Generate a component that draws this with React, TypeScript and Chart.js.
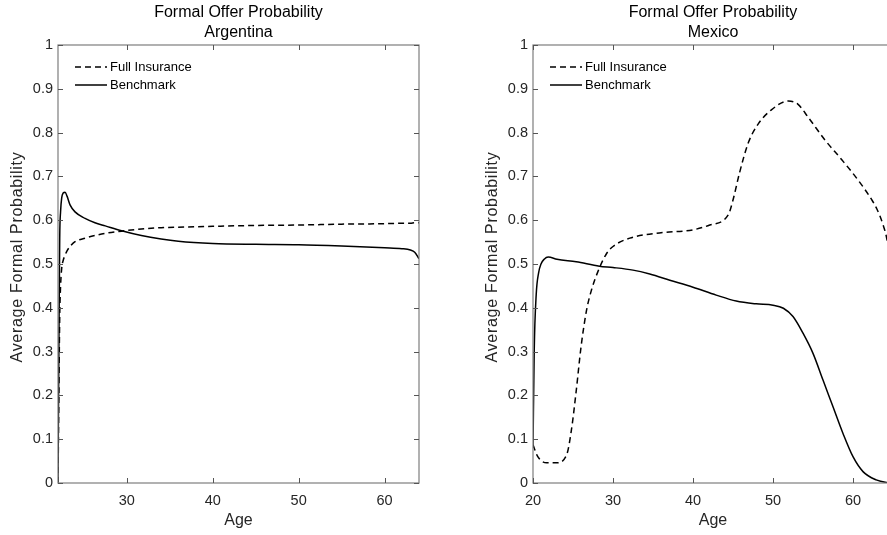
import React, { useEffect, useRef } from 'react';
import { Chart, registerables } from 'chart.js';

Chart.register(...registerables);

// ---------- data ----------
const titleMain = 'Formal Offer Probability';
const countryAR = 'Argentina';
const countryMX = 'Mexico';
const seriesFull = 'Full Insurance';
const seriesBench = 'Benchmark';
const xAxisLabel = 'Age';
const yAxisLabel = 'Average Formal Probability';

const yTickValues = [0, 0.1, 0.2, 0.3, 0.4, 0.5, 0.6, 0.7, 0.8, 0.9, 1];
const xTicksAR = [30, 40, 50, 60];
const xTicksMX = [20, 30, 40, 50, 60];
const xRangeAR = [22, 64];
const xRangeMX = [20, 65];

// Argentina
const ageAR = [22, 22.1, 22.2, 22.3, 22.43, 22.6, 22.82, 23.05, 23.4, 23.98, 25.15, 26.3, 27.5, 29.4, 31.7, 34, 36, 40, 45, 50, 55, 60, 62, 63, 63.5, 64];
const benchAR = [0, 0.3, 0.56, 0.62, 0.651, 0.662, 0.664, 0.655, 0.635, 0.619, 0.604, 0.594, 0.587, 0.576, 0.565, 0.557, 0.552, 0.547, 0.545, 0.544, 0.541, 0.537, 0.535, 0.532, 0.527, 0.512];
const fullAR = [0, 0.2, 0.38, 0.45, 0.49, 0.508, 0.52, 0.53, 0.54, 0.551, 0.559, 0.565, 0.57, 0.575, 0.58, 0.583, 0.584, 0.586, 0.588, 0.589, 0.591, 0.592, 0.593, 0.593, 0.594, 0.594];

// Mexico
const ageMXBench = [20, 20.15, 20.4, 20.7, 21, 21.4, 21.9, 23, 25.4, 28.3, 30, 32.5, 34.6, 37.1, 40, 42.9, 45.4, 47.9, 50, 51.3, 52.5, 53.75, 55, 56.25, 57.5, 58.75, 60, 61.25, 62.9, 64.2, 65];
const benchMX = [0.08, 0.3, 0.43, 0.48, 0.5, 0.511, 0.516, 0.511, 0.505, 0.495, 0.492, 0.486, 0.477, 0.463, 0.447, 0.429, 0.4155, 0.409, 0.406, 0.399, 0.38, 0.342, 0.296, 0.235, 0.174, 0.113, 0.06, 0.026, 0.007, 0.001, 0];
const ageMXFull = [20, 20.6, 21.7, 22.9, 24.2, 24.8, 25.4, 26, 26.7, 27.3, 28.1, 29.2, 30, 32.1, 35.8, 40, 42.1, 44.4, 45, 45.8, 46.9, 48.2, 49.8, 51.9, 53.1, 54.4, 56.5, 58.6, 60.7, 62.4, 63, 63.75, 64.25, 65];
const fullMX = [0.087, 0.06, 0.046, 0.046, 0.064, 0.121, 0.21, 0.31, 0.395, 0.44, 0.482, 0.524, 0.54, 0.559, 0.571, 0.578, 0.589, 0.612, 0.646, 0.707, 0.776, 0.821, 0.852, 0.872, 0.865, 0.835, 0.783, 0.738, 0.69, 0.645, 0.625, 0.59, 0.555, 0.45];

// ---------- styling ----------
const FONT = '"Liberation Sans", Arial, Helvetica, sans-serif';
const TEXT = '#262626';

function makeDecor(country: string, xTicks: number[]) {
  return {
    id: 'decor',
    afterDatasetsDraw(chart: any) {
      const { ctx, chartArea: a, scales } = chart;
      const xs = scales.x;
      const ys = scales.y;
      ctx.save();
      // box
      ctx.strokeStyle = '#7d7d7d';
      ctx.lineWidth = 1.2;
      ctx.strokeRect(a.left, a.top, a.right - a.left, a.bottom - a.top);
      // inward ticks
      ctx.strokeStyle = '#555555';
      ctx.lineWidth = 1;
      ctx.beginPath();
      for (const v of xTicks) {
        const px = Math.round(xs.getPixelForValue(v)) + 0.5;
        ctx.moveTo(px, a.bottom);
        ctx.lineTo(px, a.bottom - 5);
        ctx.moveTo(px, a.top);
        ctx.lineTo(px, a.top + 5);
      }
      for (const v of yTickValues) {
        const py = Math.round(ys.getPixelForValue(v)) + 0.5;
        ctx.moveTo(a.left, py);
        ctx.lineTo(a.left + 5, py);
        ctx.moveTo(a.right, py);
        ctx.lineTo(a.right - 5, py);
      }
      ctx.stroke();

      const cx = (a.left + a.right) / 2;
      // titles
      ctx.fillStyle = '#000';
      ctx.font = `16px ${FONT}`;
      ctx.textAlign = 'center';
      ctx.textBaseline = 'middle';
      ctx.fillText(titleMain, cx, a.top - 32);
      ctx.fillText(country, cx, a.top - 12);

      // axis labels
      ctx.fillStyle = TEXT;
      ctx.fillText(xAxisLabel, cx, a.bottom + 38);
      ctx.save();
      ctx.translate(a.left - 40, (a.top + a.bottom) / 2 - 7);
      ctx.rotate(-Math.PI / 2);
      try { (ctx as any).letterSpacing = '0.7px'; } catch (e) {}
      ctx.fillText(yAxisLabel, 0, 0);
      ctx.restore();

      // legend
      const lx0 = a.left + 17;
      const lx1 = a.left + 49;
      const ly1 = a.top + 22;
      const ly2 = a.top + 40;
      ctx.strokeStyle = '#000';
      ctx.lineWidth = 1.5;
      ctx.setLineDash([6, 4]);
      ctx.beginPath();
      ctx.moveTo(lx0, ly1);
      ctx.lineTo(lx1, ly1);
      ctx.stroke();
      ctx.setLineDash([]);
      ctx.beginPath();
      ctx.moveTo(lx0, ly2);
      ctx.lineTo(lx1, ly2);
      ctx.stroke();
      ctx.fillStyle = '#000';
      ctx.font = `13px ${FONT}`;
      ctx.textAlign = 'left';
      ctx.fillText(seriesFull, lx1 + 3, ly1);
      ctx.fillText(seriesBench, lx1 + 3, ly2);
      ctx.restore();
    },
  };
}

type PanelProps = {
  left: number;
  width: number;
  yAxisWidth: number;
  padRight: number;
  range: number[];
  xTicks: number[];
  country: string;
  fullX: number[];
  fullY: number[];
  benchX: number[];
  benchY: number[];
};

function Panel(p: PanelProps) {
  const ref = useRef<HTMLCanvasElement | null>(null);
  useEffect(() => {
    if (!ref.current) return;
    const chart = new Chart(ref.current, {
      type: 'line',
      data: {
        datasets: [
          {
            label: seriesFull,
            data: p.fullX.map((x, i) => ({ x, y: p.fullY[i] })),
            borderColor: '#000',
            borderWidth: 1.5,
            borderDash: [6, 4],
            pointRadius: 0,
            fill: false,
            cubicInterpolationMode: 'monotone',
          },
          {
            label: seriesBench,
            data: p.benchX.map((x, i) => ({ x, y: p.benchY[i] })),
            borderColor: '#000',
            borderWidth: 1.5,
            pointRadius: 0,
            fill: false,
            cubicInterpolationMode: 'monotone',
          },
        ],
      },
      options: {
        responsive: false,
        animation: false,
        devicePixelRatio: 1,
        layout: { padding: { left: 0, right: p.padRight, top: 45, bottom: 0 } },
        plugins: {
          legend: { display: false },
          title: { display: false },
          tooltip: { enabled: false },
        },
        scales: {
          x: {
            type: 'linear',
            min: p.range[0],
            max: p.range[1],
            afterBuildTicks: (s: any) => {
              s.ticks = p.xTicks.map((v) => ({ value: v }));
            },
            afterFit: (s: any) => {
              s.height = 52;
            },
            grid: { display: false, drawTicks: false },
            border: { display: false },
            ticks: {
              padding: 9,
              color: TEXT,
              font: { family: FONT, size: 14.5 },
              maxRotation: 0,
              autoSkip: false,
              callback: (v: any) => String(v),
            },
          },
          y: {
            type: 'linear',
            min: 0,
            max: 1,
            afterBuildTicks: (s: any) => {
              s.ticks = yTickValues.map((v) => ({ value: v }));
            },
            afterFit: (s: any) => {
              s.width = p.yAxisWidth;
            },
            grid: { display: false, drawTicks: false },
            border: { display: false },
            ticks: {
              padding: 5,
              color: TEXT,
              font: { family: FONT, size: 14.5 },
              autoSkip: false,
              callback: (v: any) => (v === 0 ? '0' : v === 1 ? '1' : Number(v).toFixed(1)),
            },
          },
        },
      } as any,
      plugins: [makeDecor(p.country, p.xTicks)],
    });
    return () => chart.destroy();
  }, []);
  return (
    <canvas
      ref={ref}
      width={p.width}
      height={535}
      style={{ position: 'absolute', left: p.left, top: 0, width: p.width, height: 535 }}
    />
  );
}

export default function App() {
  return (
    <div
      style={{
        position: 'fixed',
        left: 0,
        top: 0,
        width: '100vw',
        height: '100vh',
        overflow: 'hidden',
        background: '#fff',
      }}
    >
      <Panel
        left={0}
        width={443}
        yAxisWidth={58}
        padRight={24}
        range={xRangeAR}
        xTicks={xTicksAR}
        country={countryAR}
        fullX={ageAR}
        fullY={fullAR}
        benchX={ageAR}
        benchY={benchAR}
      />
      <Panel
        left={443}
        width={470}
        yAxisWidth={90}
        padRight={20}
        range={xRangeMX}
        xTicks={xTicksMX}
        country={countryMX}
        fullX={ageMXFull}
        fullY={fullMX}
        benchX={ageMXBench}
        benchY={benchMX}
      />
    </div>
  );
}
